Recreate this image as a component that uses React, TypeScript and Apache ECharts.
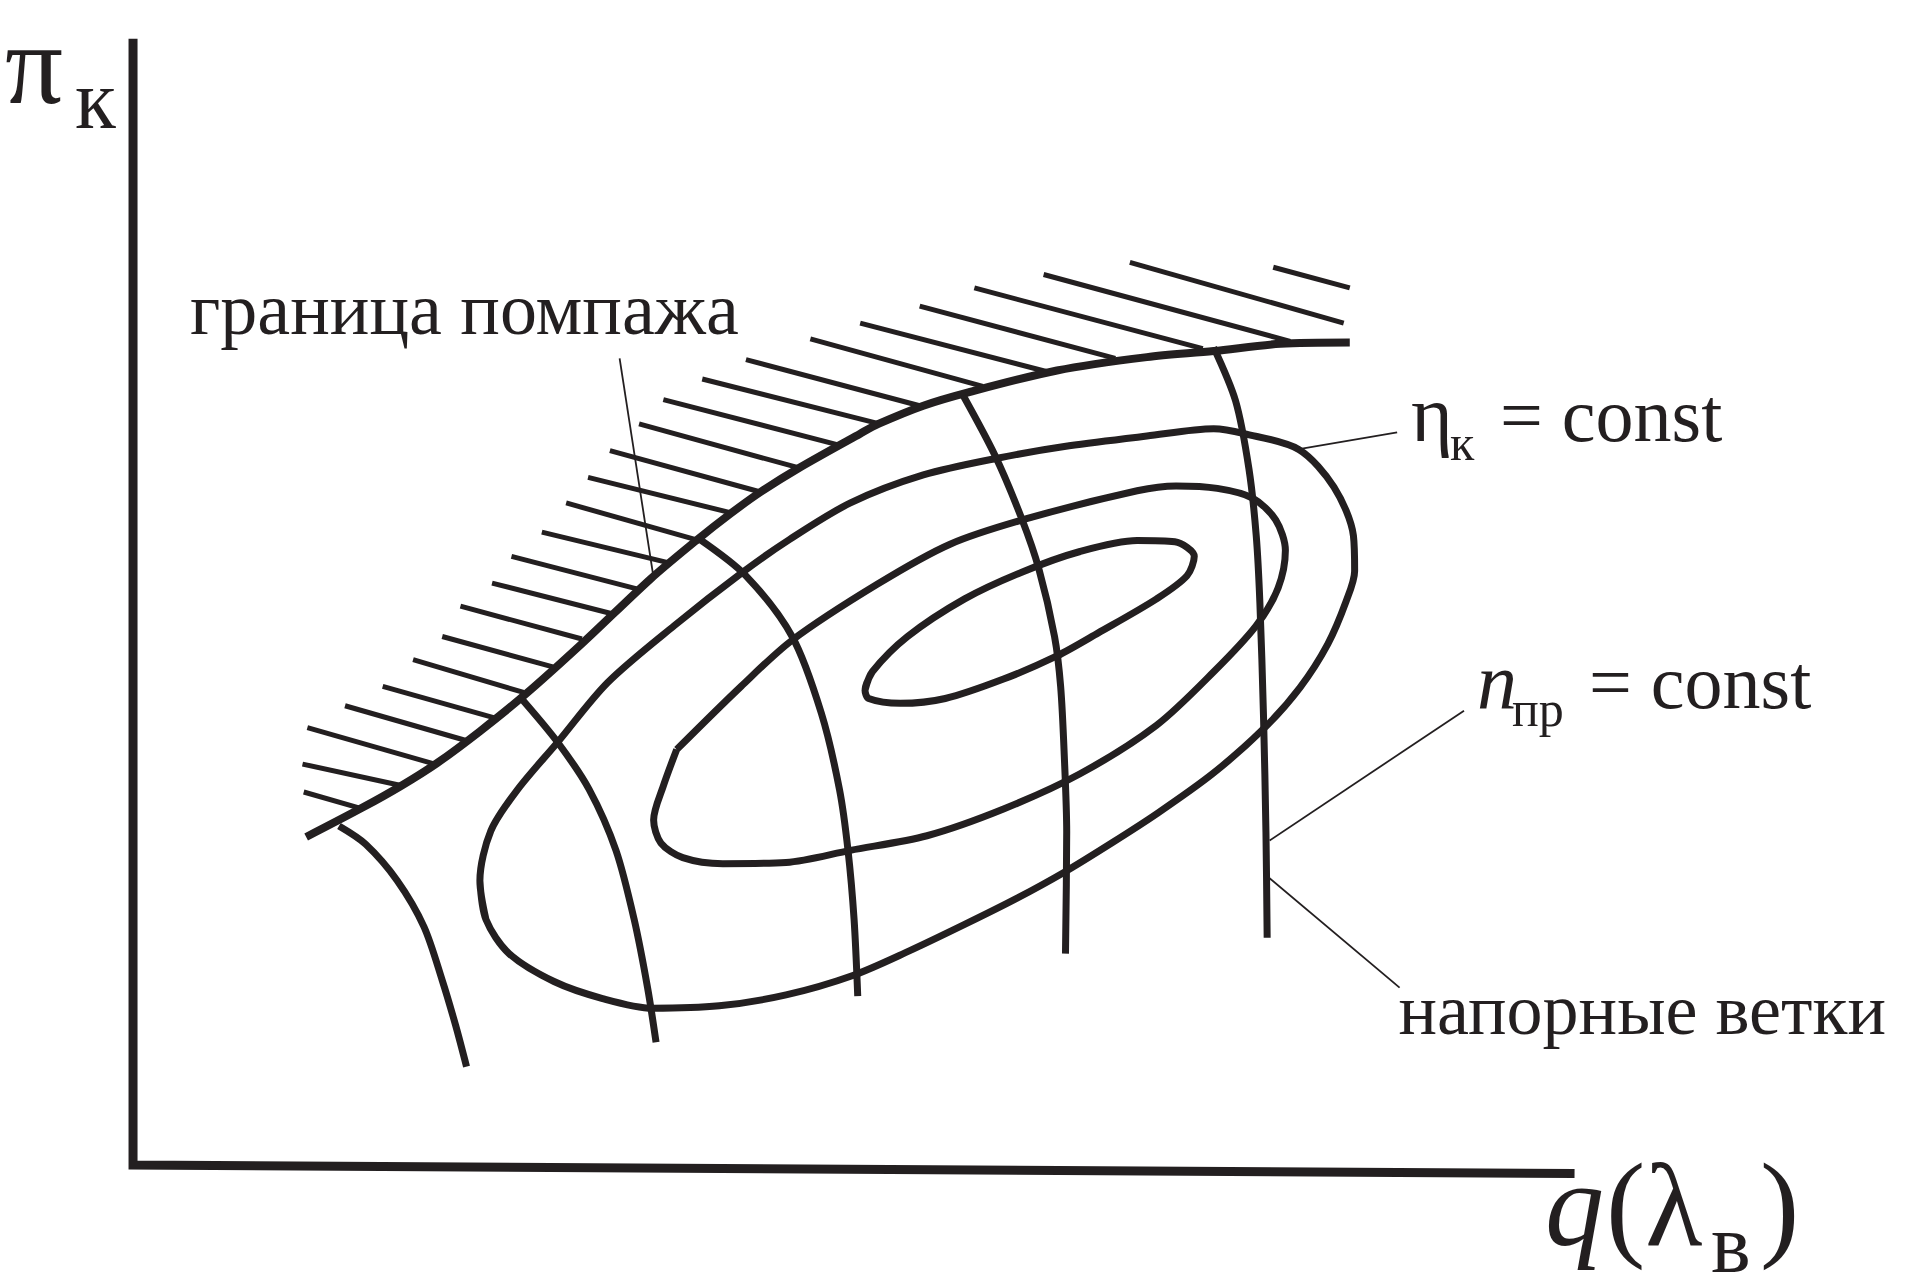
import React, { useEffect, useRef } from "react";
import * as echarts from "echarts";

// Data in the chart's own units (x: 0..1568, y: 0..1057, y grows downward)
const axisFrame: number[][] = [[109.5, 32], [109.5, 959], [1296, 966]];

const surgeLine: number[][] = [
  [252, 689], [298, 665], [330, 647], [360, 628], [395, 602], [432, 572], [481, 528],
  [535, 477], [573, 445], [601, 423], [626, 405], [658, 385], [708, 357], [723, 349],
  [760, 334], [797, 323], [870, 305], [944, 294], [999, 289], [1054, 283], [1111, 282],
];

const nprLine1: number[][] = [[279, 680], [301, 695], [327, 725], [349, 763], [364, 807], [375, 844], [384, 878]];
const nprLine2: number[][] = [[430, 576], [459, 611], [485, 650], [507, 700], [522, 757], [533, 813], [540, 858]];
const nprLine3: number[][] = [[576, 444], [614, 474], [652, 524], [676, 587], [691, 650], [698, 700], [703, 757], [706, 820]];
const nprLine4: number[][] = [[793, 326], [819, 375], [841, 427], [855, 468], [868, 524], [873, 565], [876, 622], [878, 685], [877, 785]];
const nprLine5: number[][] = [[999, 286], [1017, 330], [1028, 386], [1034, 441], [1037, 496], [1040, 590], [1042, 685], [1043, 772]];

const etaOuter: number[][] = [
  [400, 757], [395, 725], [404, 684], [426, 650], [459, 611], [500, 562], [555, 515],
  [610, 472], [650, 444], [700, 414], [760, 391], [822, 377], [880, 367], [944, 359],
  [999, 353], [1024, 357], [1069, 370], [1098, 401], [1114, 441], [1115, 470], [1108, 495],
  [1093, 530], [1070, 566], [1040, 600], [998, 637], [952, 670], [915, 694], [876, 718],
  [836, 740], [794, 761], [748, 783], [702, 803], [647, 819], [592, 828],
  [537, 830], [496, 822], [456, 808], [419, 785], [400, 757], [395, 725],
];

const etaMiddle: number[][] = [
  [557, 617], [610, 565], [652, 527], [722, 481], [782, 448], [845, 427], [936, 404],
  [968, 400], [1002, 402], [1031, 410], [1050, 428], [1058, 453], [1052, 484], [1034, 515],
  [999, 553], [952, 597], [889, 637], [826, 666], [763, 688], [700, 700], [647, 710],
  [595, 711], [562, 706], [544, 694], [538, 675], [546, 647], [557, 617],
];

const etaInner: number[][] = [
  [712, 568], [718, 553], [747, 524], [794, 493], [841, 471], [889, 454], [936, 445],
  [967, 446], [983, 458], [977, 474], [952, 493], [904, 521], [870, 540], [826, 559],
  [778, 575], [741, 579], [715, 575], [712, 568], [718, 553],
];

const hatchLines: number[][][] = [
  [[250, 652], [299, 666]], [[249, 629], [332, 647]], [[253, 599], [358, 629]],
  [[284, 581], [385, 610]], [[315, 565], [407, 591]], [[340, 543], [431, 570]],
  [[364, 524], [455, 549]], [[379, 499], [479, 526]], [[405, 480], [503, 505]],
  [[421, 458], [525, 485]], [[446, 438], [549, 463]], [[466, 414], [572, 444]],
  [[484, 393], [601, 422]], [[502, 371], [626, 405]], [[526, 349], [657, 385]],
  [[546, 329], [689, 366]], [[578, 312], [724, 349]], [[614, 296], [757, 334]],
  [[667, 279], [809, 318]], [[708, 266], [862, 306]], [[757, 252], [918, 295]],
  [[802, 237], [990, 287]], [[859, 226], [1062, 281]], [[930, 216], [1106, 266]],
  [[1048, 220], [1111, 237]],
];

const leaderLines: number[][][] = [
  [[510, 295], [538, 476]],
  [[1068, 370], [1150, 356]],
  [[1045, 692], [1205, 585]],
  [[1045, 723], [1152, 813]],
];

const INK = "#231f20";
const SERIF = '"Liberation Serif", "Times New Roman", serif';

function curve(data: number[][], width: number) {
  return {
    type: "line",
    data,
    smooth: 0.3,
    symbol: "none",
    silent: true,
    clip: false,
    lineStyle: { color: INK, width, cap: "butt", join: "round" },
  };
}

// text anchored by its alphabetic baseline (central baseline is 0.3375em above it)
function label(text: string, x: number, baseline: number, size: number, italic = false, align = "left") {
  return {
    type: "text",
    x,
    y: baseline - 0.3375 * size,
    silent: true,
    style: {
      text,
      x: 0,
      y: 0,
      fill: INK,
      font: `${italic ? "italic " : ""}${size}px ${SERIF}`,
      textAlign: align,
      textVerticalAlign: "middle",
    },
  };
}

export default function App() {
  const ref = useRef<HTMLDivElement>(null);
  useEffect(() => {
    if (!ref.current) return;
    const chart = echarts.init(ref.current, null, { renderer: "svg" });
    chart.setOption({
      animation: false,
      backgroundColor: "#ffffff",
      grid: { left: 0, right: 0, top: 0, bottom: 0 },
      xAxis: { type: "value", min: 0, max: 1568, show: false },
      yAxis: { type: "value", min: 0, max: 1057, inverse: true, show: false },
      series: [
        {
          type: "line",
          data: axisFrame,
          symbol: "none",
          silent: true,
          clip: false,
          lineStyle: { color: INK, width: 9, cap: "butt", join: "miter" },
        },
        {
          type: "lines",
          coordinateSystem: "cartesian2d",
          silent: true,
          data: hatchLines.map((c) => ({ coords: c })),
          lineStyle: { color: INK, width: 5, opacity: 1, curveness: 0 },
        },
        {
          type: "lines",
          coordinateSystem: "cartesian2d",
          silent: true,
          data: leaderLines.map((c) => ({ coords: c })),
          lineStyle: { color: INK, width: 1.8, opacity: 1, curveness: 0 },
        },
        curve(surgeLine, 8),
        curve(nprLine1, 7),
        curve(nprLine2, 7),
        curve(nprLine3, 7),
        curve(nprLine4, 7),
        curve(nprLine5, 7),
        curve(etaOuter, 7),
        curve(etaMiddle, 7),
        curve(etaInner, 7),
      ],
      graphic: [
        label("π", 5, 103, 115),
        label("к", 75, 128, 84),
        label("q", 1545, 1245, 118, true),
        label("(λ", 1606, 1245, 118),
        label("в", 1711, 1272, 84),
        label(")", 1760, 1245, 118),
        label("граница помпажа", 190, 334, 74),
        label("η", 1411, 441, 80),
        label("к", 1450, 460, 50),
        label("= const", 1500, 441, 76),
        label("n", 1477, 708, 80, true),
        label("пр", 1512, 726, 50),
        label("= const", 1589, 708, 76),
        label("напорные ветки", 1886, 1034, 72, false, "right"),
      ],
    });
    return () => chart.dispose();
  }, []);
  return (
    <div
      ref={ref}
      style={{ position: "absolute", left: 0, top: 0, width: 1905, height: 1284, background: "#fff" }}
    />
  );
}
